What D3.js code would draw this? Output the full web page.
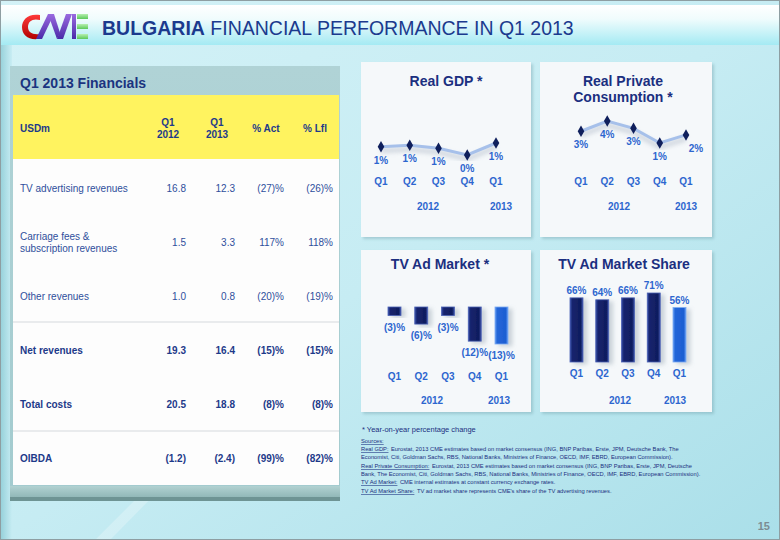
<!DOCTYPE html>
<html><head><meta charset="utf-8">
<script src="https://cdn.jsdelivr.net/npm/d3@7"></script>
<style>body{margin:0;background:#fff;} svg{display:block;font-family:Arial,"Liberation Sans",sans-serif;}</style>
</head><body><svg id="c" width="780" height="540"></svg>
<script>
// ---------- DATA ----------
const quarters = ["Q1", "Q2", "Q3", "Q4", "Q1"];
const periods = ["2012 Q1", "2012 Q2", "2012 Q3", "2012 Q4", "2013 Q1"];
const years = ["2012", "2013"];

const gdpValues = [0.55, 0.65, 0.45, 0.0, 0.8];
const gdpLabels = ["1%", "1%", "1%", "0%", "1%"];
const consValues = [2.6, 4.0, 3.0, 1.0, 2.1];
const consLabels = ["3%", "4%", "3%", "1%", "2%"];
const adMarketValues = [-3, -6, -3, -12, -13];
const adMarketLabels = ["(3)%", "(6)%", "(3)%", "(12)%", "(13)%"];
const shareValues = [66, 64, 66, 71, 56];
const shareLabels = ["66%", "64%", "66%", "71%", "56%"];

const tableHeaders = ["USDm", "Q1|2012", "Q1|2013", "% Act", "% Lfl"];
const rowLabels = ["TV advertising revenues", "Carriage fees &|subscription revenues", "Other revenues", "Net revenues", "Total costs", "OIBDA"];
const q1_2012 = ["16.8", "1.5", "1.0", "19.3", "20.5", "(1.2)"];
const q1_2013 = ["12.3", "3.3", "0.8", "16.4", "18.8", "(2.4)"];
const pctAct = ["(27)%", "117%", "(20)%", "(15)%", "(8)%", "(99)%"];
const pctLfl = ["(26)%", "118%", "(19)%", "(15)%", "(8)%", "(82)%"];

const titleBold = "BULGARIA";
const titleRest = " FINANCIAL PERFORMANCE IN Q1 2013";
const footnote = "* Year-on-year percentage change";
const sources = [
  ["Sources:", ""],
  ["Real GDP:", "Eurostat, 2013 CME estimates based on market consensus (ING, BNP Paribas, Erste, JPM, Deutsche Bank, The"],
  ["", "Economist, Citi, Goldman Sachs, RBS, National Banks, Ministries of Finance, OECD, IMF, EBRD, European Commission)."],
  ["Real Private Consumption:", "Eurostat, 2013 CME estimates based on market consensus (ING, BNP Paribas, Erste, JPM, Deutsche"],
  ["", "Bank, The Economist, Citi, Goldman Sachs, RBS, National Banks, Ministries of Finance, OECD, IMF, EBRD, European Commission)."],
  ["TV Ad Market:", "CME internal estimates at constant currency exchange rates."],
  ["TV Ad Market Share:", "TV ad market share represents CME's share of the TV advertising revenues."]
];
const pageNumber = "15";

// ---------- DRAW ----------
const svg = d3.select("#c");
const defs = svg.append("defs");

function lin(id, stops, x2 = 0, y2 = 1) {
  const g = defs.append("linearGradient").attr("id", id).attr("x1", 0).attr("y1", 0).attr("x2", x2).attr("y2", y2);
  stops.forEach(s => g.append("stop").attr("offset", s[0]).attr("stop-color", s[1]));
}
lin("bg", [[0, "#d4f2f7"], [0.5, "#c6ecf3"], [1, "#aadfe9"]], 1, 1);
lin("hdr", [[0, "#ffffff"], [0.35, "#f0fcfd"], [1, "#a4eaf3"]]);
lin("leftEdge", [[0, "#86c8d2"], [1, "#c6ecf3"]], 1, 0);
lin("navy", [[0, "#3a50a8"], [0.18, "#15246e"], [0.82, "#101d5e"], [1, "#3a52aa"]], 1, 0);
lin("blue", [[0, "#5a96f0"], [0.18, "#2466d8"], [0.82, "#1d5ed2"], [1, "#5b98f2"]], 1, 0);
lin("tblHead", [[0, "#b0d3d6"], [1, "#a3cbcf"]]);
lin("tblShadow", [[0, "#b7d6d6"], [1, "#8fb6b6"]]);
lin("logoE", [[0, "#b6f0b0"], [1, "#5cc95a"]]);
lin("logoM", [[0, "#9a6be0"], [1, "#4a2aa8"]]);
lin("logoC", [[0, "#ff3a3a"], [1, "#b00000"]]);

const sh = defs.append("filter").attr("id", "shadow").attr("x", "-20%").attr("y", "-20%").attr("width", "140%").attr("height", "140%");
sh.append("feDropShadow").attr("dx", 2).attr("dy", 2).attr("stdDeviation", 1.5).attr("flood-color", "#5f8f99").attr("flood-opacity", 0.35);
const bsh = defs.append("filter").attr("id", "barShadow").attr("x", "-50%").attr("y", "-20%").attr("width", "250%").attr("height", "140%");
bsh.append("feDropShadow").attr("dx", 4).attr("dy", 2).attr("stdDeviation", 2).attr("flood-color", "#7a8a9a").attr("flood-opacity", 0.35);
const blur = defs.append("filter").attr("id", "blur");
blur.append("feGaussianBlur").attr("stdDeviation", 2);

// background
svg.append("rect").attr("width", 780).attr("height", 540).attr("fill", "url(#bg)");
svg.append("rect").attr("x", 0).attr("y", 45).attr("width", 12).attr("height", 495).attr("fill", "url(#leftEdge)").attr("opacity", 0.8);
svg.append("path").attr("d", "M95,540 L215,420 L228,420 L110,540 Z").attr("fill", "#ffffff").attr("opacity", 0.25);
svg.append("rect").attr("x", 0).attr("y", 5).attr("width", 780).attr("height", 40).attr("fill", "url(#hdr)");
svg.append("rect").attr("x", 0.5).attr("y", 0.5).attr("width", 779).attr("height", 539).attr("fill", "none").attr("stroke", "#8e9ea2");

// logo
const logo = svg.append("g");
logo.append("path").attr("d", "M40,15 C28,13 22,20 22,27 C22,35 28,40 38,39 L40,34 C32,35 28,32 28,27 C28,21 33,18 40,20 Z").attr("fill", "url(#logoC)");
logo.append("path").attr("d", "M36,39 L48,14 L54,14 L42,39 Z").attr("fill", "url(#logoM)");
logo.append("path").attr("d", "M48,14 L54,14 L60,33 L57,39 Z").attr("fill", "url(#logoM)");
logo.append("path").attr("d", "M57,39 L66,14 L72,14 L63,39 Z").attr("fill", "url(#logoM)");
logo.append("rect").attr("x", 72).attr("y", 14).attr("width", 4).attr("height", 25).attr("fill", "url(#logoM)");
[14, 24, 34].forEach(y => logo.append("rect").attr("x", 77).attr("y", y).attr("width", 11).attr("height", 5).attr("fill", "url(#logoE)"));

// title
const title = svg.append("text").attr("x", 102).attr("y", 35).attr("font-size", 19.5).attr("fill", "#1b3a8e");
title.append("tspan").attr("font-weight", "bold").text(titleBold);
title.append("tspan").text(titleRest);

// ---------- TABLE ----------
svg.append("rect").attr("x", 10).attr("y", 484).attr("width", 330).attr("height", 14).attr("fill", "url(#tblShadow)");
svg.append("rect").attr("x", 10).attr("y", 497).attr("width", 330).attr("height", 4).attr("fill", "#6e9494");
svg.append("rect").attr("x", 10).attr("y", 66).attr("width", 330).attr("height", 420).attr("fill", "url(#tblHead)");
svg.append("rect").attr("x", 13).attr("y", 95).attr("width", 326).attr("height", 64).attr("fill", "#fff35f");
svg.append("rect").attr("x", 13).attr("y", 159).attr("width", 326).attr("height", 326).attr("fill", "#fdfdfd");
svg.append("text").attr("x", 20).attr("y", 88).attr("font-size", 14).attr("font-weight", "bold").attr("fill", "#1b3480").text("Q1 2013 Financials");

const colRight = [186, 235, 284, 333];
const columns = [q1_2012, q1_2013, pctAct, pctLfl];
const rowY = d3.scalePoint().domain(d3.range(rowLabels.length)).range([188, 458]);
const headG = svg.append("g").attr("font-size", 10).attr("font-weight", "bold").attr("fill", "#1d3a8a");
headG.append("text").attr("x", 20).attr("y", 131.5).text(tableHeaders[0]);
tableHeaders.slice(1).forEach((h, i) => {
  const parts = h.split("|");
  const cx = colRight[i] - 18;
  if (parts.length === 2) {
    headG.append("text").attr("x", cx).attr("y", 126).attr("text-anchor", "middle").text(parts[0]);
    headG.append("text").attr("x", cx).attr("y", 137.5).attr("text-anchor", "middle").text(parts[1]);
  } else {
    headG.append("text").attr("x", cx).attr("y", 131.5).attr("text-anchor", "middle").text(parts[0]);
  }
});
[322, 431].forEach(y => svg.append("line").attr("x1", 13).attr("x2", 339).attr("y1", y).attr("y2", y).attr("stroke", "#d6dadd").attr("stroke-width", 1.2));

rowLabels.forEach((lab, r) => {
  const bold = r >= 3;
  const g = svg.append("g").attr("font-size", 10).attr("font-weight", bold ? "bold" : "normal").attr("fill", bold ? "#1d3a8a" : "#2f4f9c");
  const y = rowY(r) + 3.5;
  const parts = lab.split("|");
  if (parts.length === 2) {
    g.append("text").attr("x", 20).attr("y", y - 6).text(parts[0]);
    g.append("text").attr("x", 20).attr("y", y + 6).text(parts[1]);
  } else {
    g.append("text").attr("x", 20).attr("y", y).text(lab);
  }
  columns.forEach((col, c) => {
    g.append("text").attr("x", colRight[c]).attr("y", y).attr("text-anchor", "end").text(col[r]);
  });
});

// ---------- RIGHT PANELS ----------
const panels = [
  {x: 361, y: 62, w: 170, h: 175},
  {x: 540, y: 62, w: 172, h: 175},
  {x: 361, y: 250, w: 170, h: 162},
  {x: 540, y: 250, w: 172, h: 162}
];
panels.forEach(p => svg.append("rect").attr("x", p.x).attr("y", p.y).attr("width", p.w).attr("height", p.h).attr("fill", "#f5f8fa").attr("filter", "url(#shadow)"));

const titleColor = "#1b2f80", lblColor = "#2d66cf";
function panelTitle(lines, cx, y0) {
  lines.forEach((t, i) => svg.append("text").attr("x", cx).attr("y", y0 + i * 16).attr("text-anchor", "middle")
    .attr("font-size", 14).attr("font-weight", "bold").attr("fill", titleColor).text(t));
}
function axisLabels(x, qy, yy, yearX) {
  const g = svg.append("g").attr("font-size", 10).attr("font-weight", "bold").attr("fill", lblColor).attr("text-anchor", "middle");
  periods.forEach((p, i) => g.append("text").attr("x", x(p)).attr("y", qy).text(quarters[i]));
  years.forEach((yr, i) => g.append("text").attr("x", yearX[i]).attr("y", yy).text(yr));
}

function lineChart(values, labels, xr, yScale, qy, yy, yearX, lastDx) {
  const x = d3.scalePoint().domain(periods).range(xr);
  const line = d3.line().x((d, i) => x(periods[i])).y(d => yScale(d));
  svg.append("path").datum(values).attr("d", line).attr("transform", "translate(0,4)")
    .attr("fill", "none").attr("stroke", "#c9d0da").attr("stroke-width", 5).attr("filter", "url(#blur)").attr("opacity", 0.8);
  svg.append("path").datum(values).attr("d", line).attr("fill", "none").attr("stroke", "#a6c0ea").attr("stroke-width", 3);
  svg.selectAll(null).data(values).enter().append("path")
    .attr("d", d3.symbol(d3.symbolDiamond, 38)())
    .attr("transform", (d, i) => `translate(${x(periods[i])},${yScale(d)})`)
    .attr("fill", "#0f1f5c");
  svg.selectAll(null).data(values).enter().append("text")
    .attr("x", (d, i) => x(periods[i]) + (i === values.length - 1 ? lastDx : 0))
    .attr("y", d => yScale(d) + 17)
    .attr("text-anchor", "middle").attr("font-size", 10).attr("font-weight", "bold").attr("fill", lblColor)
    .text((d, i) => labels[i]);
  axisLabels(x, qy, yy, yearX);
}

// Real GDP
panelTitle(["Real GDP *"], 446, 86);
lineChart(gdpValues, gdpLabels, [381, 496], d3.scaleLinear().domain([0, 1]).range([155, 140]), 185, 210, [428, 501], 0);

// Real Private Consumption
panelTitle(["Real Private", "Consumption *"], 623, 86);
lineChart(consValues, consLabels, [581, 686], d3.scaleLinear().domain([1, 4]).range([143, 121]), 185, 210, [619, 686], 10);

// TV Ad Market (bars, negative)
panelTitle(["TV Ad Market *"], 440, 269);
{
  const x = d3.scalePoint().domain(periods).range([394.5, 501.5]);
  const y = d3.scaleLinear().domain([-13, 0]).range([344, 307]);
  const bw = 13;
  svg.selectAll(null).data(adMarketValues).enter().append("rect")
    .attr("x", (d, i) => x(periods[i]) - bw / 2).attr("y", y(0)).attr("width", bw)
    .attr("height", d => y(d) - y(0))
    .attr("fill", (d, i) => i === 4 ? "url(#blue)" : "url(#navy)")
    .attr("stroke", (d, i) => i === 4 ? "#7aaaf2" : "#4a60b4").attr("stroke-width", 0.8)
    .attr("filter", "url(#barShadow)");
  svg.selectAll(null).data(adMarketValues).enter().append("text")
    .attr("x", (d, i) => x(periods[i])).attr("y", d => y(d) + 15)
    .attr("text-anchor", "middle").attr("font-size", 10).attr("font-weight", "bold").attr("fill", lblColor)
    .text((d, i) => adMarketLabels[i]);
  axisLabels(x, 380, 404, [432, 499]);
}

// TV Ad Market Share (bars)
panelTitle(["TV Ad Market Share"], 624, 269);
{
  const x = d3.scalePoint().domain(periods).range([576.5, 679.5]);
  const y = d3.scaleLinear().domain([0, 71]).range([362, 293]);
  const bw = 13;
  svg.selectAll(null).data(shareValues).enter().append("rect")
    .attr("x", (d, i) => x(periods[i]) - bw / 2).attr("y", d => y(d)).attr("width", bw)
    .attr("height", d => y(0) - y(d))
    .attr("fill", (d, i) => i === 4 ? "url(#blue)" : "url(#navy)")
    .attr("stroke", (d, i) => i === 4 ? "#7aaaf2" : "#4a60b4").attr("stroke-width", 0.8)
    .attr("filter", "url(#barShadow)");
  svg.selectAll(null).data(shareValues).enter().append("text")
    .attr("x", (d, i) => x(periods[i])).attr("y", d => y(d) - 4)
    .attr("text-anchor", "middle").attr("font-size", 10).attr("font-weight", "bold").attr("fill", lblColor)
    .text((d, i) => shareLabels[i]);
  axisLabels(x, 377, 404, [620, 675]);
}

// ---------- FOOTNOTES ----------
const narrow = "'Liberation Sans Narrow','Arial Narrow',Arial,sans-serif";
{
  const t = svg.append("text").attr("x", 362).attr("y", 432).attr("font-family", narrow).attr("font-size", 9).attr("fill", "#1b2f80").text(footnote);
  const w = t.node().getComputedTextLength();
  t.attr("font-size", 9 * 114 / w);
}
// target total line widths (px)
const srcWidths = [20, 318, 311, 321, 340, 193, 250];
const srcY = [443, 451, 459, 468, 476, 484, 493];
let srcFont = 6.6;
{
  // size font from the widest line, shared by all lines
  const probe = svg.append("text").attr("font-family", narrow).attr("font-size", 10).text(sources[4][1]);
  srcFont = 10 * srcWidths[4] / probe.node().getComputedTextLength();
  probe.remove();
}
sources.forEach((s, i) => {
  const gap = 2.5;
  let w1 = 0;
  if (s[0]) {
    const t1 = svg.append("text").attr("x", 361).attr("y", srcY[i]).attr("font-family", narrow).attr("font-size", srcFont)
      .attr("fill", "#1b2f80").attr("text-decoration", "underline").text(s[0]);
    w1 = t1.node().getComputedTextLength() + gap;
  }
  if (s[1]) {
    svg.append("text").attr("x", 361 + w1).attr("y", srcY[i]).attr("font-family", narrow).attr("font-size", srcFont)
      .attr("fill", "#1b2f80").text(s[1]);
  }
});
svg.append("text").attr("x", 770).attr("y", 530).attr("text-anchor", "end").attr("font-size", 11).attr("font-weight", "bold")
  .attr("fill", "#7c8c92").text(pageNumber);
</script></body></html>
